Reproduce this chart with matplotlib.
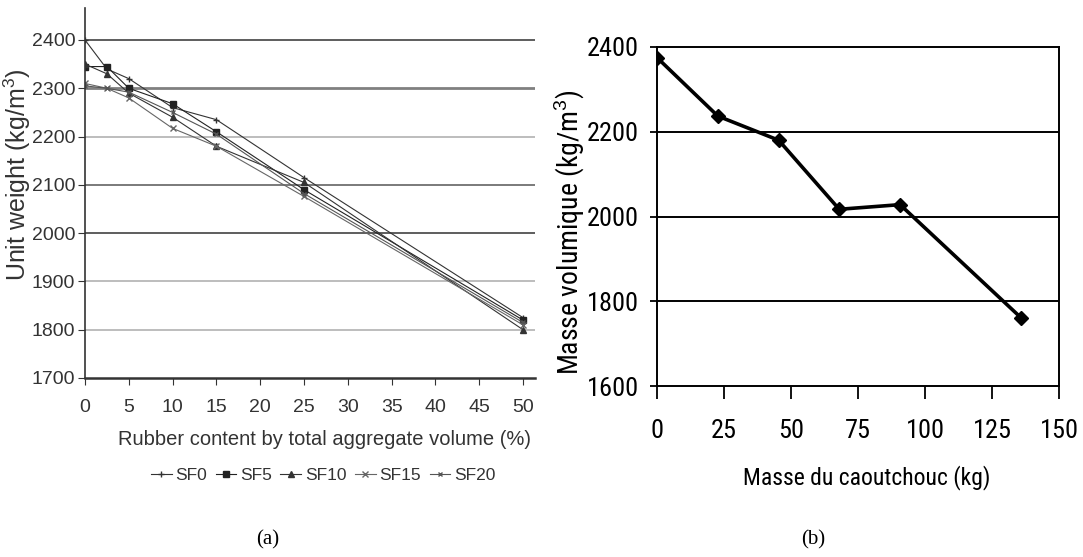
import matplotlib
matplotlib.use("Agg")
import matplotlib.pyplot as plt

ARIAL = ['Liberation Sans', 'DejaVu Sans']
NARROW = ['Arial Narrow', 'Liberation Sans Narrow', 'Roboto Condensed', 'PT Sans Narrow', 'Liberation Sans', 'DejaVu Sans']
plt.rcParams['font.family'] = ARIAL
plt.rcParams['mathtext.fontset'] = 'custom'
plt.rcParams['mathtext.rm'] = 'Liberation Sans'

# Panel (a)
rubber_pct = [0, 2.5, 5, 10, 15, 25, 50]
sf0 = [2400, 2340, 2320, 2260, 2235, 2115, 1825]
sf5 = [2345, 2345, 2300, 2268, 2210, 2090, 1820]
sf10 = [2350, 2330, 2290, 2240, 2180, 2105, 1800]
sf15 = [2310, 2300, 2280, 2217, 2180, 2076, 1810]
sf20 = [2305, 2300, 2292, 2250, 2205, 2082, 1815]
series_names = ['SF0', 'SF5', 'SF10', 'SF15', 'SF20']
a_xticks = [0, 5, 10, 15, 20, 25, 30, 35, 40, 45, 50]
a_yticks = [1700, 1800, 1900, 2000, 2100, 2200, 2300, 2400]

# Panel (b)
rubber_mass = [0, 22.7, 45.4, 68, 90.7, 136]
density = [2375, 2237, 2180, 2017, 2028, 1760]
b_xticks = [0, 25, 50, 75, 100, 125, 150]
b_yticks = [1600, 1800, 2000, 2200, 2400]

W, H = 1083, 557
fig = plt.figure(figsize=(W/100, H/100), dpi=100)

# ---------- panel (a) ----------
L, R, T, B = 85, 535, 8, 378
ax1 = fig.add_axes([L/W, (H-B)/H, (R-L)/W, (B-T)/H])
grid_cols = {1800: '#b8b8b8', 1900: '#b8b8b8', 2000: '#505050', 2100: '#707070',
             2200: '#b8b8b8', 2300: '#808080', 2400: '#505050'}
for yv, c in grid_cols.items():
    ax1.axhline(yv, color=c, lw=2.0 if yv == 2300 else 1.3, zorder=0)

styles = [('+', 5, '#333333'), ('s', 4, '#222222'), ('^', 4, '#333333'),
          ('x', 4, '#666666'), ('x', 3, '#555555')]
for name, ys, (m, ms, c) in zip(series_names, [sf0, sf5, sf10, sf15, sf20], styles):
    ax1.plot(rubber_pct, ys, marker=m, ms=ms, color=c, lw=0.8, mew=1.0, label=name)

ax1.set_xlim(0, (R - L) / 8.76)
ax1.set_ylim(1700, 2400 + (40 - T) / ((B - 40) / 700))
ax1.set_xticks(a_xticks)
ax1.set_yticks(a_yticks)
for s in ['top', 'right']:
    ax1.spines[s].set_visible(False)
ax1.spines['left'].set_linewidth(1.2)
ax1.spines['left'].set_color('#333333')
ax1.spines['bottom'].set_linewidth(1.8)
ax1.spines['bottom'].set_color('#333333')
ax1.tick_params(labelsize=14, direction='out', length=5, colors='#333333', labelcolor='#333333')
ax1.tick_params(axis='x', pad=10)
ax1.tick_params(axis='y', pad=2)
ax1.set_xlabel('Rubber content by total aggregate volume (%)', fontsize=14.5, color='#333333')
ax1.xaxis.set_label_coords((325 - L) / (R - L), (B - 430) / (B - T))
ax1.set_ylabel('Unit weight (kg/m$^3$)', fontsize=18, color='#333333')
ax1.yaxis.set_label_coords((33 - L) / (R - L), (B - 175) / (B - T))
ax1.legend(loc='center', bbox_to_anchor=((323 - L) / (R - L), (B - 475) / (B - T)), ncol=5,
           frameon=False, fontsize=12.5, handlelength=1.2, handletextpad=0.2,
           columnspacing=0.5, labelcolor='#333333', borderaxespad=0, borderpad=0)
fig.text(268/W, 1 - 540/H, '(a)', ha='center', va='center', fontsize=15,
         family=['Liberation Serif', 'DejaVu Serif'])

# ---------- panel (b) ----------
L2, R2, T2, B2 = 657, 1059, 47, 386
ax2 = fig.add_axes([L2/W, (H-B2)/H, (R2-L2)/W, (B2-T2)/H])
for yv in b_yticks[1:-1]:
    ax2.axhline(yv, color='black', lw=1.4, zorder=0)
ax2.plot(rubber_mass, density, marker='D', ms=7, color='black', lw=2.6)
ax2.set_xlim(0, 150)
ax2.set_ylim(1600, 2400)
ax2.set_xticks(b_xticks)
ax2.set_yticks(b_yticks)
for s in ax2.spines.values():
    s.set_linewidth(1.4)
for lab in ax2.get_xticklabels() + ax2.get_yticklabels():
    lab.set_family(NARROW)
ax2.tick_params(labelsize=19, direction='out', width=1.3)
ax2.tick_params(axis='x', length=9, pad=15)
ax2.tick_params(axis='y', length=5, pad=8)
ax2.set_xlabel('Masse du caoutchouc (kg)', fontsize=17, family=NARROW)
ax2.xaxis.set_label_coords((867 - L2) / (R2 - L2), (B2 - 465) / (B2 - T2))
ax2.set_ylabel('Masse volumique (kg/m$^3$)', fontsize=20, family=NARROW)
ax2.yaxis.set_label_coords((587 - L2) / (R2 - L2), (B2 - 232) / (B2 - T2))
fig.text(813/W, 1 - 540/H, '(b)', ha='center', va='center', fontsize=15,
         family=['Liberation Serif', 'DejaVu Serif'])

fig.savefig('out.png', dpi=100)
